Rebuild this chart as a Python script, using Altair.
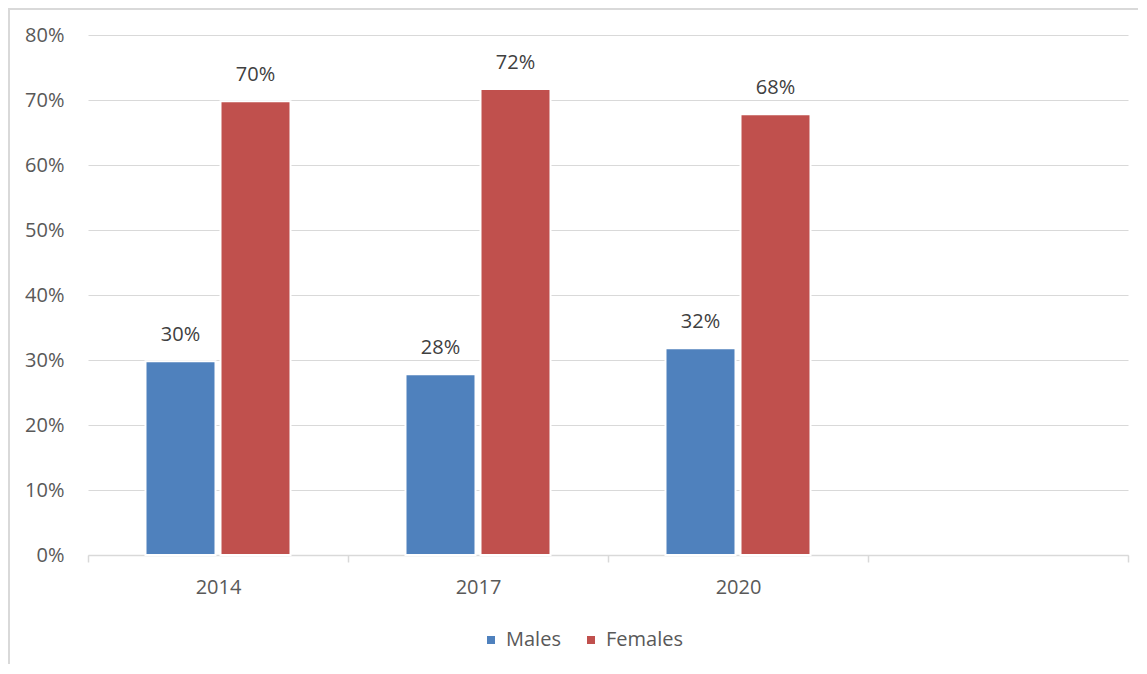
import altair as alt
import pandas as pd

years = ["2014", "2017", "2020"]
males = [0.298, 0.278, 0.318]
females = [0.698, 0.717, 0.678]
series = ["Males", "Females"]
colors = ["#4F81BD", "#C0504D"]
y_ticks = [0, 0.1, 0.2, 0.3, 0.4, 0.5, 0.6, 0.7, 0.8]
x_domain = years + ["blank"]

rows = []
for i, y in enumerate(years):
    rows.append({"year": y, "sex": "Males", "value": males[i]})
    rows.append({"year": y, "sex": "Females", "value": females[i]})
df = pd.DataFrame(rows)

FONT = "Open Sans"
W, H = 1040, 520

x_enc = alt.X(
    "year:N",
    scale=alt.Scale(domain=x_domain, paddingInner=0, paddingOuter=0),
    axis=alt.Axis(
        title=None,
        labelExpr="datum.value == 'blank' ? '' : datum.value",
        tickBand="extent",
        labelAngle=0,
        domainColor="#d9d9d9",
        domainWidth=1.5,
        tickColor="#d9d9d9",
        tickWidth=1.5,
        tickSize=7,
        labelPadding=15,
        labelFontSize=20,
        labelFont=FONT,
        labelColor="#595959",
        grid=False,
    ),
)
xoff = alt.XOffset(
    "sex:N",
    sort=series,
    scale=alt.Scale(domain=series, paddingInner=0.0667, paddingOuter=0.7667),
)
y_enc = alt.Y(
    "value:Q",
    scale=alt.Scale(domain=[0, 0.8], nice=False),
    axis=alt.Axis(
        title=None,
        values=y_ticks,
        format=".0%",
        domain=False,
        ticks=False,
        labelPadding=24,
        labelFontSize=20,
        labelFont=FONT,
        labelColor="#595959",
        gridColor="#d9d9d9",
        gridWidth=1.2,
    ),
)
color_enc = alt.Color(
    "sex:N",
    sort=series,
    scale=alt.Scale(domain=series, range=colors),
    legend=alt.Legend(
        title=None,
        orient="none",
        direction="horizontal",
        legendX=393,
        legendY=595,
        symbolType="square",
        symbolSize=64,
        symbolStrokeWidth=0,
        labelFontSize=20,
        labelFont=FONT,
        labelColor="#595959",
        labelOffset=5,
        columnPadding=20,
    ),
)

base = alt.Chart(df)
bars = base.mark_bar(stroke="white", strokeWidth=2).encode(
    x=x_enc, xOffset=xoff, y=y_enc, color=color_enc
)
labels = base.mark_text(
    dy=-20, baseline="alphabetic", fontSize=20, font=FONT, color="#404040"
).encode(
    x=alt.X("year:N", scale=alt.Scale(domain=x_domain, paddingInner=0, paddingOuter=0)),
    xOffset=xoff,
    y=alt.Y("value:Q"),
    text=alt.Text("value:Q", format=".0%"),
)

border_df = pd.DataFrame({"k": [0]})
top_line = alt.Chart(border_df).mark_rule(color="#d9d9d9", strokeWidth=2).encode(
    x=alt.value(-80), x2=alt.value(1060), y=alt.value(-26)
)
left_line = alt.Chart(border_df).mark_rule(color="#d9d9d9", strokeWidth=2).encode(
    x=alt.value(-79), y=alt.value(-27), y2=alt.value(640)
)

chart = (
    alt.layer(bars, labels, top_line, left_line)
    .properties(
        width=W,
        height=H,
        background="white",
        autosize=alt.AutoSizeParams(type="none"),
        padding={"left": 80, "top": 27, "right": 10, "bottom": 109},
    )
    .configure_view(stroke="transparent", strokeWidth=0)
)

chart.save("out.html", embed_options={"renderer": "svg", "actions": False})
